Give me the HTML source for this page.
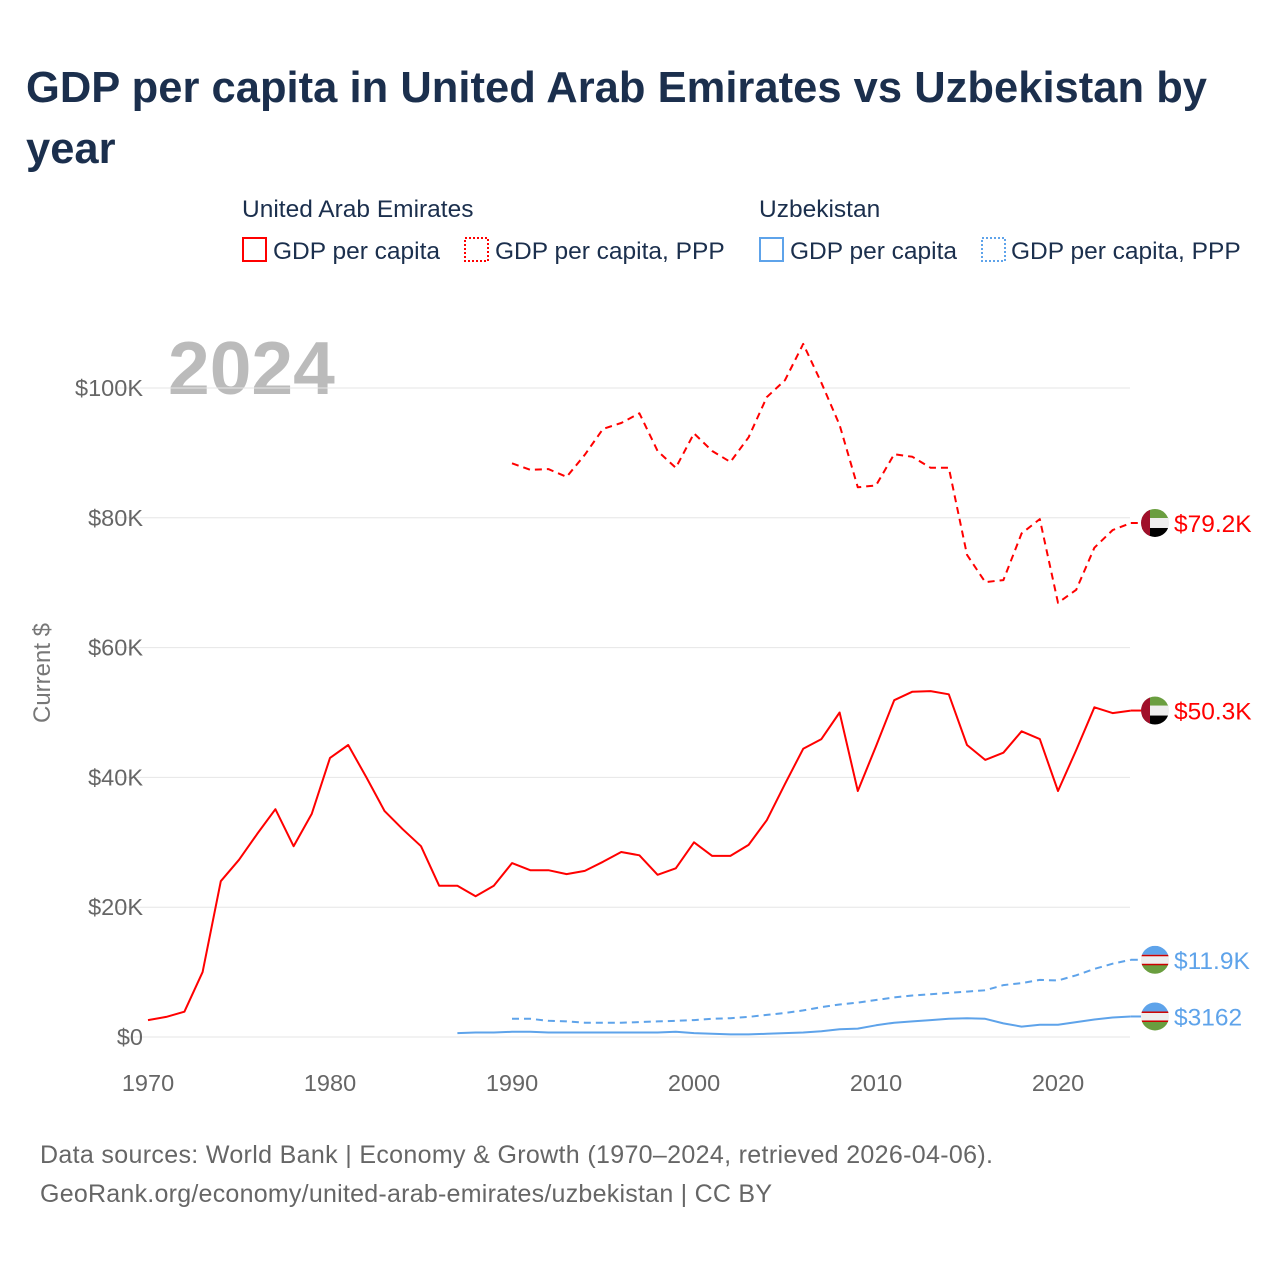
<!DOCTYPE html>
<html><head><meta charset="utf-8"><style>
body{margin:0;background:#fff;font-family:"Liberation Sans",sans-serif;}
#wrap{position:relative;width:1280px;height:1280px;overflow:hidden;}
</style></head><body>
<div id="wrap">
<svg id="svg" width="1280" height="1280" xmlns="http://www.w3.org/2000/svg">
<text x="26" y="102" font-size="43.5" font-weight="bold" fill="#1b2f4d" textLength="1181">GDP per capita in United Arab Emirates vs Uzbekistan by</text>
<text x="26" y="163" font-size="43.5" font-weight="bold" fill="#1b2f4d">year</text>
<g font-size="24.5" fill="#1b2f4d">
<text x="242" y="217">United Arab Emirates</text>
<text x="759" y="217">Uzbekistan</text>
<g><rect x="243" y="238" width="23" height="23" fill="none" stroke="#f00" stroke-width="2"/><text x="273" y="259">GDP per capita</text></g>
<g><rect x="465" y="238" width="23" height="23" fill="none" stroke="#f00" stroke-width="2" stroke-dasharray="2,2"/><text x="495" y="259">GDP per capita, PPP</text></g>
<g><rect x="760" y="238" width="23" height="23" fill="none" stroke="#5ea3ea" stroke-width="2"/><text x="790" y="259">GDP per capita</text></g>
<g><rect x="982" y="238" width="23" height="23" fill="none" stroke="#5ea3ea" stroke-width="2" stroke-dasharray="2,2"/><text x="1011" y="259">GDP per capita, PPP</text></g>
</g>
<text x="168" y="394" font-size="75" font-weight="bold" fill="#bbb">2024</text>
<g id="grid"></g><g id="xt"></g><g id="lines"></g><g id="ends"></g>
<text transform="translate(50,673) rotate(-90)" text-anchor="middle" font-size="24" fill="#777">Current $</text>
<text x="40" y="1163" font-size="25" fill="#666" textLength="953">Data sources: World Bank | Economy &amp; Growth (1970–2024, retrieved 2026-04-06).</text>
<text x="40" y="1202" font-size="25" fill="#666" textLength="732">GeoRank.org/economy/united-arab-emirates/uzbekistan | CC BY</text>
</svg></div>
<script>
const yTicks=[0,20,40,60,80,100];
const yTickLabels=["$0","$20K","$40K","$60K","$80K","$100K"];
const xTicks=[1970,1980,1990,2000,2010,2020];
const uaeGdpStart=1970;
const uaeGdp=[2.6,3.1,3.9,10,24,27.3,31.3,35.1,29.4,34.4,43,45,40,34.8,32,29.4,23.3,23.3,21.7,23.3,26.8,25.7,25.7,25.1,25.6,27,28.5,28,25,26,30,27.9,27.9,29.6,33.4,39,44.4,45.9,50,37.9,44.8,51.9,53.2,53.3,52.8,45,42.7,43.8,47.1,45.9,37.9,44.2,50.8,49.9,50.3];
const uaePppStart=1990;
const uaePpp=[88.4,87.4,87.5,86.3,89.7,93.7,94.6,96.1,90.3,87.7,93,90.3,88.6,92.4,98.6,101.2,106.8,100.8,94.3,84.7,85,89.8,89.4,87.7,87.7,74.3,70.1,70.4,77.6,79.8,66.9,68.9,75.4,78.1,79.2];
const uzbGdpStart=1987;
const uzbGdp=[0.6,0.7,0.7,0.8,0.8,0.7,0.7,0.7,0.7,0.7,0.7,0.7,0.8,0.6,0.5,0.4,0.4,0.5,0.6,0.7,0.9,1.2,1.3,1.8,2.2,2.4,2.6,2.8,2.9,2.8,2.1,1.6,1.9,1.9,2.3,2.7,3.0,3.162];
const uzbPppStart=1990;
const uzbPpp=[2.8,2.8,2.5,2.4,2.2,2.2,2.2,2.3,2.4,2.5,2.6,2.8,2.9,3.1,3.4,3.7,4.1,4.6,5.0,5.3,5.7,6.1,6.4,6.6,6.8,7.0,7.2,8.0,8.3,8.8,8.7,9.5,10.5,11.3,11.9];
const endLabels=["$50.3K","$79.2K","$3162","$11.9K"];

const X=y=>148+(y-1970)*18.2, Y=v=>1037-v*6.49;
const NS="http://www.w3.org/2000/svg";
function mk(tag,attrs,parent){const e=document.createElementNS(NS,tag);for(const k in attrs)e.setAttribute(k,attrs[k]);parent.appendChild(e);return e;}
const grid=document.getElementById('grid');
yTicks.forEach((t,i)=>{
 const l=mk('line',{x1:118,x2:1130,y1:Y(t),y2:Y(t),stroke:'#e6e6e6','stroke-width':1},grid);
 
 
 const tx=mk('text',{x:143,y:Y(t)+8,'text-anchor':'end','font-size':23.5,fill:'#666'},grid);
 tx.textContent=yTickLabels[i];
 
 
});
const xt=document.getElementById('xt');
xTicks.forEach(t=>{
 const tx=mk('text',{x:X(t),y:1091,'text-anchor':'middle','font-size':23.5,fill:'#666'},xt);
 tx.textContent=t;
 
 
});
const lines=document.getElementById('lines');
function series(arr,start,color,dash,name){
 const pts=arr.map((v,i)=>X(start+i).toFixed(1)+','+Y(v).toFixed(1)).join(' ');
 const p=mk('polyline',{points:pts,fill:'none',stroke:color,'stroke-width':2,'stroke-linejoin':'round'},lines);
 if(dash)p.setAttribute('stroke-dasharray','7,5');
 
 
}
series(uaeGdp,uaeGdpStart,'#f00',false,'line-uae-gdp');
series(uaePpp,uaePppStart,'#f00',true,'line-uae-ppp');
series(uzbGdp,uzbGdpStart,'#5ea3ea',false,'line-uzb-gdp');
series(uzbPpp,uzbPppStart,'#5ea3ea',true,'line-uzb-ppp');
const ends=document.getElementById('ends');
const finals=[[uaeGdp,'#f00','uae'],[uaePpp,'#f00','uae'],[uzbGdp,'#5ea3ea','uzb'],[uzbPpp,'#5ea3ea','uzb']];
finals.forEach((f,i)=>{
 let y=Y(f[0][f[0].length-1]); if(i==2) y=Math.max(y,1013);
 const g=mk('g',{},ends);
 
 
 mk('line',{x1:X(2024),x2:1141,y1:y,y2:y,stroke:f[1],'stroke-width':2,'stroke-dasharray':i%2?'7,5':''},g);
 const cx=1155,r=14,id='c'+i;
 const cp=mk('clipPath',{id:id},g);mk('circle',{cx:cx,cy:y,r:r},cp);
 const fg=mk('g',{'clip-path':'url(#'+id+')'},g);
 if(f[2]=='uae'){
  mk('rect',{x:cx-r,y:y-r,width:2*r,height:10,fill:'#6a9e3f'},fg);
  mk('rect',{x:cx-r,y:y-r+9,width:2*r,height:10,fill:'#eee'},fg);
  mk('rect',{x:cx-r,y:y-r+19,width:2*r,height:10,fill:'#000'},fg);
  mk('rect',{x:cx-r,y:y-r,width:9,height:2*r,fill:'#a0102a'},fg);
 } else {
  mk('rect',{x:cx-r,y:y-r,width:2*r,height:10,fill:'#5ea3ea'},fg);
  mk('rect',{x:cx-r,y:y-r+9,width:2*r,height:10,fill:'#eee'},fg);
  mk('rect',{x:cx-r,y:y-r+19,width:2*r,height:10,fill:'#6a9e3f'},fg);
  mk('rect',{x:cx-r,y:y-r+9,width:2*r,height:1.5,fill:'#c00'},fg);
  mk('rect',{x:cx-r,y:y-r+18,width:2*r,height:1.5,fill:'#c00'},fg);
 }
 const t=mk('text',{x:1174,y:y+9,'font-size':24.5,fill:f[1]},g);
 t.textContent=endLabels[i];
});
</script>
</body></html>
